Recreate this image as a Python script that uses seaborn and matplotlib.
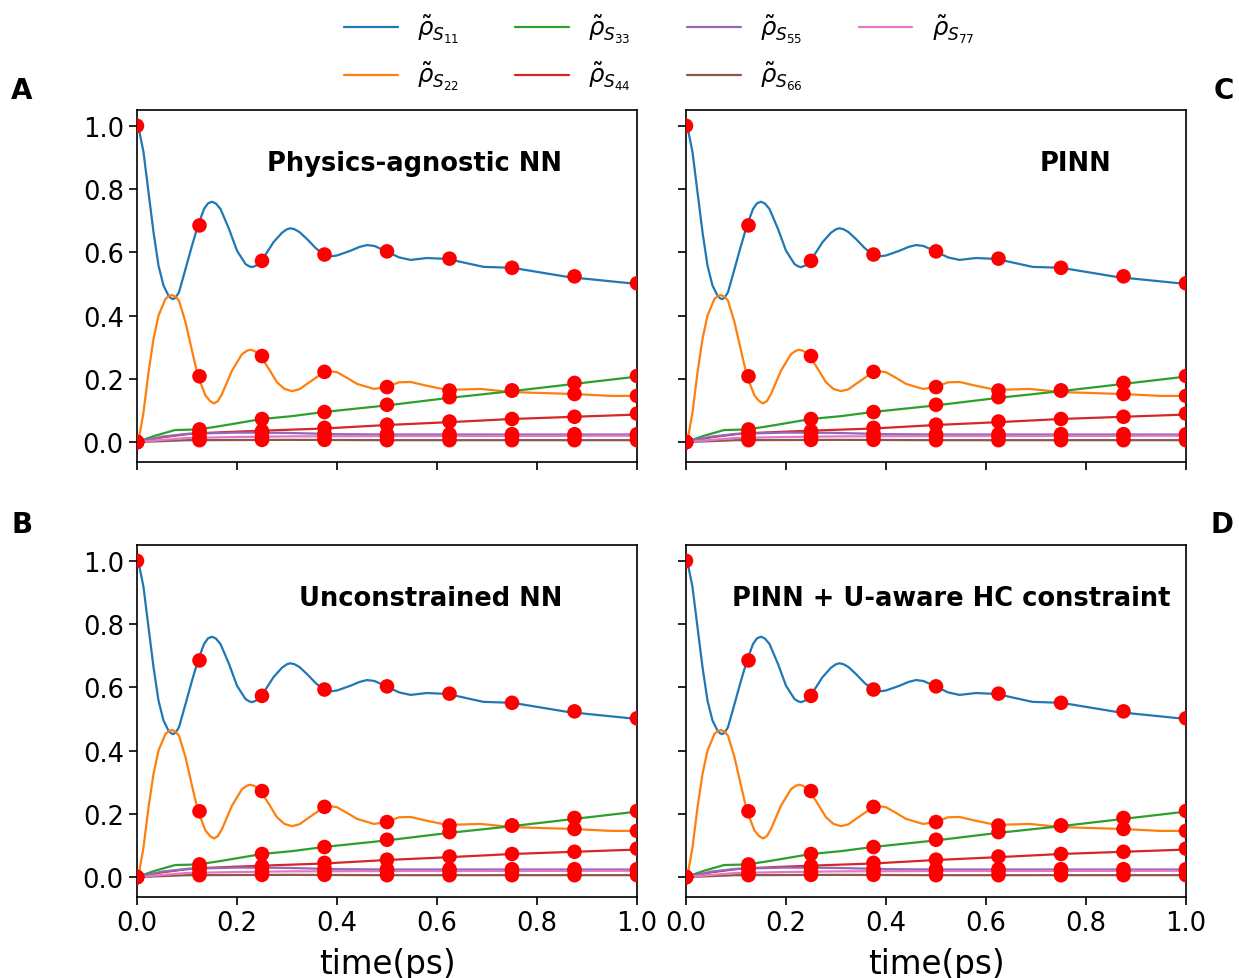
import numpy as np
import pandas as pd
import matplotlib
matplotlib.use("Agg")
import matplotlib.pyplot as plt
import seaborn as sns

# curves (time in ps, population)
t_s11 = [0, 0.003, 0.013, 0.023, 0.033, 0.043, 0.053, 0.063, 0.068, 0.072, 0.077, 0.084, 0.097, 0.110,
         0.122, 0.134, 0.142, 0.150, 0.158, 0.167, 0.184, 0.200, 0.217, 0.224, 0.230, 0.238, 0.247,
         0.260, 0.273, 0.290, 0.300, 0.307, 0.315, 0.325, 0.340, 0.357, 0.373, 0.386, 0.400, 0.427,
         0.445, 0.460, 0.475, 0.499, 0.524, 0.547, 0.580, 0.621, 0.693, 0.751, 0.862, 1.0]
rho_s11 = [1.0, 0.996, 0.917, 0.790, 0.664, 0.558, 0.495, 0.463, 0.455, 0.452, 0.456, 0.474, 0.547, 0.621,
           0.685, 0.737, 0.755, 0.760, 0.754, 0.737, 0.674, 0.605, 0.563, 0.556, 0.553, 0.558, 0.571,
           0.600, 0.632, 0.662, 0.673, 0.676, 0.673, 0.664, 0.642, 0.614, 0.593, 0.587, 0.590, 0.605,
           0.617, 0.623, 0.620, 0.603, 0.584, 0.576, 0.582, 0.579, 0.554, 0.551, 0.522, 0.500]

t_s22 = [0, 0.003, 0.013, 0.023, 0.033, 0.043, 0.057, 0.064, 0.070, 0.077, 0.084, 0.097, 0.110, 0.122,
         0.137, 0.146, 0.154, 0.162, 0.170, 0.190, 0.210, 0.220, 0.227, 0.235, 0.247, 0.265, 0.280,
         0.295, 0.310, 0.325, 0.340, 0.373, 0.386, 0.400, 0.420, 0.440, 0.474, 0.499, 0.524, 0.547,
         0.580, 0.620, 0.687, 0.751, 0.874, 0.948, 1.0]
rho_s22 = [0.0, 0.004, 0.094, 0.220, 0.326, 0.400, 0.453, 0.462, 0.465, 0.460, 0.447, 0.379, 0.289, 0.208,
           0.147, 0.130, 0.122, 0.130, 0.152, 0.226, 0.278, 0.289, 0.292, 0.288, 0.273, 0.228, 0.189,
           0.168, 0.161, 0.167, 0.184, 0.220, 0.224, 0.221, 0.203, 0.184, 0.168, 0.174, 0.189, 0.190,
           0.178, 0.165, 0.168, 0.158, 0.152, 0.146, 0.146]

t_s33 = [0, 0.036, 0.076, 0.123, 0.168, 0.25, 0.31, 0.373, 0.5, 0.62, 0.75, 0.875, 1.0]
rho_s33 = [0.0, 0.020, 0.038, 0.040, 0.051, 0.073, 0.082, 0.095, 0.116, 0.139, 0.161, 0.184, 0.207]

t_s44 = [0, 0.05, 0.1, 0.125, 0.2, 0.25, 0.375, 0.5, 0.625, 0.75, 0.875, 1.0]
rho_s44 = [0.0, 0.015, 0.025, 0.028, 0.033, 0.036, 0.043, 0.054, 0.063, 0.073, 0.080, 0.087]

t_s55 = [0, 0.05, 0.1, 0.2, 0.3, 0.4, 0.5, 0.75, 1.0]
rho_s55 = [0.0, 0.017, 0.026, 0.030, 0.029, 0.025, 0.024, 0.024, 0.024]

t_s66 = [0, 0.1, 0.3, 0.5, 1.0]
rho_s66 = [0.0, 0.006, 0.007, 0.006, 0.006]

t_s77 = [0, 0.1, 0.2, 0.3, 0.5, 1.0]
rho_s77 = [0.0, 0.013, 0.016, 0.018, 0.019, 0.020]

# sampled training points (red dots)
t_dots = [0, 0.125, 0.25, 0.375, 0.5, 0.625, 0.75, 0.875, 1.0]
dots_s11 = [1.0, 0.685, 0.573, 0.593, 0.603, 0.580, 0.551, 0.524, 0.502]
dots_s22 = [0.0, 0.208, 0.272, 0.222, 0.174, 0.163, 0.163, 0.152, 0.146]
dots_s33 = [0.0, 0.040, 0.073, 0.095, 0.118, 0.142, 0.163, 0.187, 0.209]
dots_s44 = [0.0, 0.030, 0.035, 0.045, 0.055, 0.065, 0.073, 0.080, 0.090]
dots_s55 = [0.0, 0.026, 0.030, 0.027, 0.025, 0.025, 0.025, 0.025, 0.025]
dots_s66 = [0.0, 0.006, 0.007, 0.007, 0.006, 0.006, 0.006, 0.006, 0.006]
dots_s77 = [0.0, 0.013, 0.016, 0.018, 0.019, 0.019, 0.020, 0.020, 0.020]

labels = [r'$\tilde{\rho}_{S_{11}}$', r'$\tilde{\rho}_{S_{22}}$', r'$\tilde{\rho}_{S_{33}}$',
          r'$\tilde{\rho}_{S_{44}}$', r'$\tilde{\rho}_{S_{55}}$', r'$\tilde{\rho}_{S_{66}}$',
          r'$\tilde{\rho}_{S_{77}}$']
titles = ['Physics-agnostic NN', 'Unconstrained NN', 'PINN', 'PINN + U-aware HC constraint']

curves = [(t_s11, rho_s11), (t_s22, rho_s22), (t_s33, rho_s33), (t_s44, rho_s44),
          (t_s55, rho_s55), (t_s66, rho_s66), (t_s77, rho_s77)]
dots = [dots_s11, dots_s22, dots_s33, dots_s44, dots_s55, dots_s66, dots_s77]

rows = []
for lab, (tt, rr) in zip(labels, curves):
    for a, b in zip(tt, rr):
        rows.append({'t': a, 'rho': b, 'state': lab})
df_lines = pd.DataFrame(rows)

rows = []
for lab, dd in zip(labels, dots):
    for a, b in zip(t_dots, dd):
        rows.append({'t': a, 'rho': b, 'state': lab})
df_dots = pd.DataFrame(rows)

sns.set_style("ticks", rc={'text.color': 'black', 'axes.labelcolor': 'black',
                           'xtick.color': 'black', 'ytick.color': 'black',
                           'axes.edgecolor': 'black'})
palette = sns.color_palette("tab10", 7)

fig = plt.figure(figsize=(12.39, 9.79), dpi=100)
W, H = 1239, 979
boxes = [(137, 111), (137, 546), (686, 111), (686, 546)]  # left, top in pixels
title_x = [0.85, 0.85, 0.85, 0.97]
axes = []
for i, (lx, ty) in enumerate(boxes):
    ax = fig.add_axes([lx / W, 1 - (ty + 352) / H, 500 / W, 352 / H])
    sns.lineplot(data=df_lines, x='t', y='rho', hue='state', palette=palette, estimator=None,
                 sort=False, linewidth=1.6, ax=ax, legend=(i == 0))
    for ln in ax.get_lines():
        ln.set_solid_joinstyle('round')
    sns.scatterplot(data=df_dots, x='t', y='rho', color='red', s=110, edgecolor='none',
                    zorder=5, ax=ax, legend=False)
    ax.set_xlim(0, 1.0)
    ax.set_ylim(-0.063, 1.05)
    ax.set_xticks(np.arange(0, 1.01, 0.2))
    ax.set_yticks(np.arange(0, 1.01, 0.2))
    ax.tick_params(labelsize=18.5, length=6, width=1.2)
    for sp in ax.spines.values():
        sp.set_linewidth(1.2)
    ax.set_ylabel('')
    if i in (1, 3):
        ax.set_xlabel('time(ps)', fontsize=23.5, labelpad=8)
    else:
        ax.set_xlabel('')
        ax.set_xticklabels([])
    if i >= 2:
        ax.set_yticklabels([])
    ax.text(title_x[i], 0.85, titles[i], transform=ax.transAxes, ha='right', va='center',
            fontsize=18.5, fontweight='bold')
    axes.append(ax)

handles, labs = axes[0].get_legend_handles_labels()
axes[0].get_legend().remove()
fig.legend(handles, labs, loc='upper center', ncol=4, frameon=False, fontsize=17.5,
           bbox_to_anchor=(0.532, 1.008), handlelength=2.2, columnspacing=2.3,
           labelspacing=0.62)

fig.text(22 / W, 1 - 91 / H, 'A', fontsize=20, fontweight='bold', ha='center', va='center')
fig.text(22 / W, 1 - 525 / H, 'B', fontsize=20, fontweight='bold', ha='center', va='center')
fig.text(1224 / W, 1 - 91 / H, 'C', fontsize=20, fontweight='bold', ha='center', va='center')
fig.text(1222 / W, 1 - 525 / H, 'D', fontsize=20, fontweight='bold', ha='center', va='center')

plt.savefig('out.png', dpi=100)
